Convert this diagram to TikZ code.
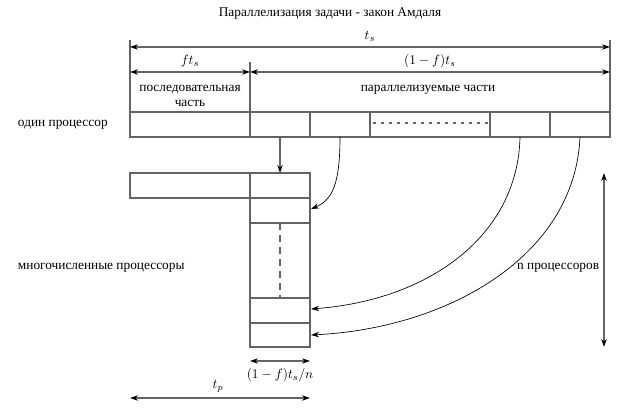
\documentclass[tikz,border=0pt]{standalone}
\usepackage{fontspec}
\setmainfont{Liberation Serif}
\usetikzlibrary{arrows.meta}
\definecolor{rule}{RGB}{100,100,100}

\begin{document}
\begin{tikzpicture}[x=0.75pt, y=-0.75pt, thick,
  cell/.style={draw=rule, line width=0.9pt},
  dimline/.style={draw=rule, line width=0.9pt,
    {Stealth[length=6pt,width=4pt,color=black]}-{Stealth[length=6pt,width=4pt,color=black]}},
  drop/.style={draw=rule, line width=0.9pt, -{Stealth[length=6pt,width=4pt,color=black]}},
  feed/.style={draw=black, line width=0.5pt, -{Stealth[length=6pt,width=4pt]}}]
  \useasboundingbox (0,0) rectangle (619,409);
  \node (title) at (330,14) {Параллелизация задачи - закон Амдаля};
  % размеры сверху
  \coordinate (L1) at (130,47);
  \coordinate (R1) at (610,47);
  \coordinate (L2) at (130,72);
  \coordinate (M2) at (250,72);
  \coordinate (R2) at (610,72);
  \draw[cell] (130,40) -- (130,112);
  \draw[cell] (250,62) -- (250,112);
  \draw[cell] (610,40) -- (610,112);
  \draw[dimline] (L1) -- (R1);
  \draw[dimline] (L2) -- (M2);
  \draw[dimline] (M2) -- (R2);
  \node (ts) at (370,36) {$t_s$};
  \node (fts) at (190,61) {$ft_s$};
  \node (rest) at (430,61) {$(1-f)t_s$};
  \node (seq1) at (190,90) {последовательная};
  \node (seq2) at (190,103) {часть};
  \node (par) at (428,90) {параллелизуемые части};
  % один процессор
  \node[anchor=west] (one) at (13,125) {один процессор};
  \draw[cell] (130,112) rectangle (610,137);
  \foreach \x in {250,310,370,490,550}
    \draw[cell] (\x,112) -- (\x,137);
  \draw[cell, dash pattern=on 2.5pt off 3.5pt] (373,123) -- (490,123);
  % много процессоров
  \node[anchor=west] (many) at (13,268) {многочисленные процессоры};
  \draw[cell] (130,173) rectangle (310,198);
  \draw[cell] (250,173) -- (250,198);
  \draw[cell] (250,198) rectangle (310,347);
  \foreach \y in {223,298,323}
    \draw[cell] (250,\y) -- (310,\y);
  \draw[cell, dash pattern=on 5pt off 4pt] (280,223) -- (280,298);
  \coordinate (S1) at (280,137);
  \coordinate (T1) at (280,173);
  \coordinate (S2) at (340,137);
  \coordinate (T2) at (311,209);
  \coordinate (S3) at (520,137);
  \coordinate (T3) at (311,309);
  \coordinate (S4) at (580,137);
  \coordinate (T4) at (311,335);
  \draw[drop] (S1) -- (T1);
  \draw[feed] (S2) .. controls (340,185) and (332,200) .. (T2);
  \draw[feed] (S3) .. controls (518,235) and (430,300) .. (T3);
  \draw[feed] (S4) .. controls (575,255) and (450,328) .. (T4);
  % n процессоров
  \coordinate (U) at (604,173);
  \coordinate (D) at (604,347);
  \draw[dimline] (U) -- (D);
  \node[anchor=east, inner sep=1pt] (nproc) at (601,268) {n процессоров};
  % размеры снизу
  \coordinate (B1) at (250,361);
  \coordinate (B2) at (310,361);
  \coordinate (P1) at (130,398);
  \coordinate (P2) at (310,398);
  \draw[dimline] (B1) -- (B2);
  \draw[dimline] (P1) -- (P2);
  \node (slice) at (280,375) {$(1-f)t_s/n$};
  \node (tp) at (218,386) {$t_p$};
\end{tikzpicture}
\end{document}
